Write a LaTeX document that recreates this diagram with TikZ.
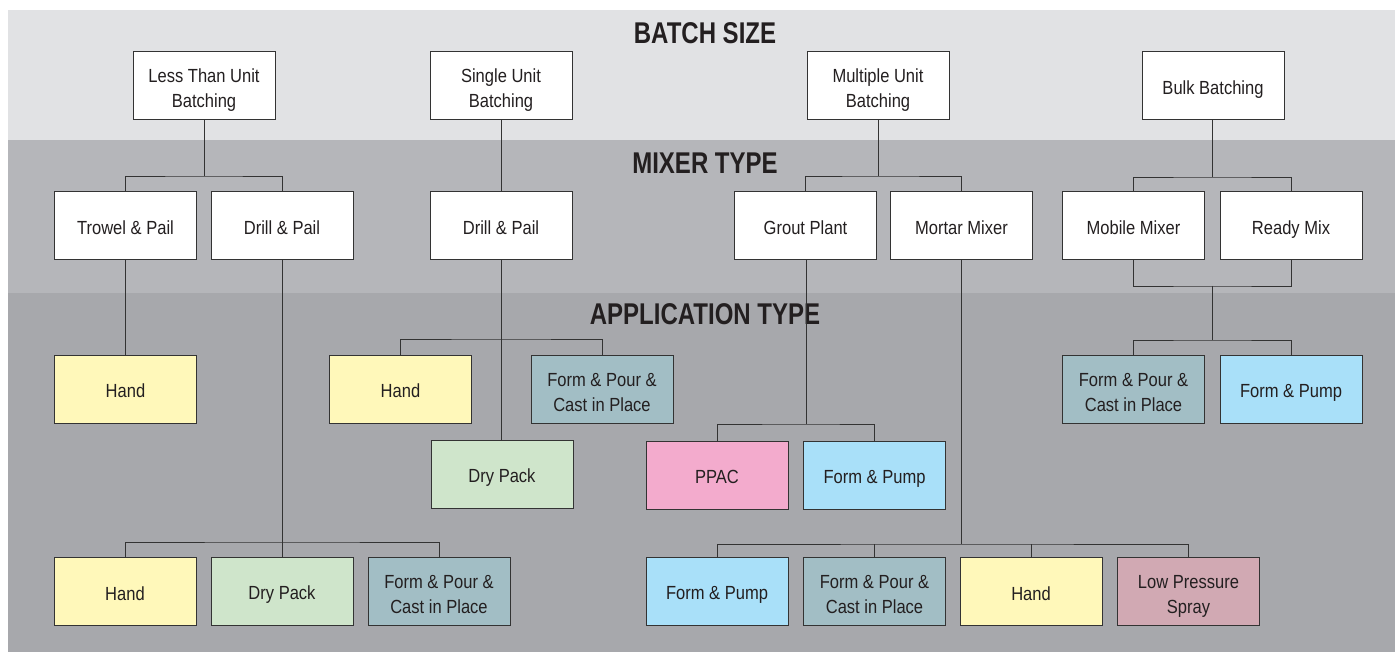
\documentclass[tikz,border=0pt]{standalone}
\usepackage{fontspec}
\setmainfont{Liberation Sans}[FakeStretch=0.87]
\newfontfamily\headfont{Liberation Sans}[FakeStretch=0.8]
\usepackage{tikz}
\usetikzlibrary{calc}
\definecolor{bandtop}{HTML}{E1E2E4}
\definecolor{bandmid}{HTML}{B5B6BA}
\definecolor{bandlow}{HTML}{A7A8AC}
\definecolor{inktext}{HTML}{231F20}
\definecolor{edge}{HTML}{333333}
\definecolor{handfill}{HTML}{FFF8BA}
\definecolor{dryfill}{HTML}{CFE5CB}
\definecolor{castfill}{HTML}{A2BEC5}
\definecolor{pumpfill}{HTML}{A9E0F9}
\definecolor{ppacfill}{HTML}{F3ABCD}
\definecolor{sprayfill}{HTML}{D1A9B3}
\newcommand\boxstrut{\rule[-2.4pt]{0pt}{22.4pt}}
\newcommand\twoline[2]{\rule{0pt}{22pt}#1\\\boxstrut #2}

\begin{document}
\begin{tikzpicture}[x=1pt,y=-1pt,
                    box/.style={draw=edge,line width=1pt,fill=white,minimum width=142pt,
                                minimum height=68pt,inner sep=0pt,align=center,text=inktext,
                                font=\fontsize{19}{25}\selectfont,execute at begin node=\boxstrut},
                    head/.style={text=inktext,inner sep=0pt,font=\headfont\bfseries\fontsize{30}{36}\selectfont},
                    wire/.style={draw=edge,line width=0.9pt}]
                      \useasboundingbox (0,0) rectangle (1395,652);
                      \fill[bandtop] (8,10) rectangle (1395,140);
                      \fill[bandmid] (8,140) rectangle (1395,293);
                      \fill[bandlow] (8,293) rectangle (1395,652);
                      \node[head] (bsize) at (705,33) {BATCH SIZE};
                      \node[head] (mtype) at (705,163) {MIXER TYPE};
                      \node[head] (atype) at (705,314) {APPLICATION TYPE};
                      \node[box] (lt) at (204,86) {\twoline{Less Than Unit}{Batching}};
                      \node[box] (su) at (501,86) {\twoline{Single Unit}{Batching}};
                      \node[box] (mu) at (878,86) {\twoline{Multiple Unit}{Batching}};
                      \node[box] (bb) at (1213,86) {Bulk Batching};
                      \node[box] (tp) at (125.5,226) {Trowel \& Pail};
                      \node[box] (dpa) at (282,226) {Drill \& Pail};
                      \node[box] (dpb) at (501,226) {Drill \& Pail};
                      \node[box] (gp) at (805.5,226) {Grout Plant};
                      \node[box] (mm) at (961.5,226) {Mortar Mixer};
                      \node[box] (mob) at (1133.5,226) {Mobile Mixer};
                      \node[box] (rdy) at (1291,226) {Ready Mix};
                      \node[box,fill=handfill] (handa) at (125.5,389) {Hand};
                      \node[box,fill=handfill] (handb) at (400.5,389) {Hand};
                      \node[box,fill=castfill] (casta) at (602,389) {\twoline{Form \& Pour \&}{Cast in Place}};
                      \node[box,fill=castfill] (castb) at (1133.5,389) {\twoline{Form \& Pour \&}{Cast in Place}};
                      \node[box,fill=pumpfill] (pumpa) at (1291,389) {Form \& Pump};
                      \node[box,fill=dryfill] (drya) at (502,474.5) {Dry Pack};
                      \node[box,fill=ppacfill] (ppac) at (717,475) {PPAC};
                      \node[box,fill=pumpfill] (pumpb) at (874.5,475) {Form \& Pump};
                      \node[box,fill=handfill] (handc) at (125,591.5) {Hand};
                      \node[box,fill=dryfill] (dryb) at (282,591.5) {Dry Pack};
                      \node[box,fill=castfill] (castc) at (439,591.5) {\twoline{Form \& Pour \&}{Cast in Place}};
                      \node[box,fill=pumpfill] (pumpc) at (717,591.5) {Form \& Pump};
                      \node[box,fill=castfill] (castd) at (874.5,591.5) {\twoline{Form \& Pour \&}{Cast in Place}};
                      \node[box,fill=handfill] (handd) at (1031,591.5) {Hand};
                      \node[box,fill=sprayfill] (lps) at (1188.5,591.5) {\twoline{Low Pressure}{Spray}};
                      \coordinate (j1) at (204,176);
                      \coordinate (j2) at (878,176);
                      \coordinate (j3) at (1212.5,177);
                      \coordinate (j4) at (501,339);
                      \coordinate (j5) at (806,424);
                      \coordinate (j6) at (961.5,544);
                      \coordinate (j7) at (1212.5,286);
                      \coordinate (j8) at (1212.5,340);
                      \coordinate (j9) at (282,542);
                      \draw[wire] (lt.south) -- (j1);
                      \draw[wire] (tp.north) |- (j1) -| (dpa.north);
                      \draw[wire] (su.south) -- (dpb.north);
                      \draw[wire] (mu.south) -- (j2);
                      \draw[wire] (gp.north) |- (j2) -| (mm.north);
                      \draw[wire] (bb.south -| j3) -- (j3);
                      \draw[wire] (mob.north) |- (j3) -| (rdy.north);
                      \draw[wire] (tp.south) -- (handa.north);
                      \draw[wire] (dpb.south) -- (drya.north -| dpb.south);
                      \draw[wire] (handb.north) |- (j4) -| (casta.north);
                      \draw[wire] (gp.south -| j5) -- (j5);
                      \draw[wire] (ppac.north) |- (j5) -| (pumpb.north);
                      \draw[wire] (mm.south) -- (j6);
                      \draw[wire] (pumpc.north) |- (j6) -| (lps.north);
                      \draw[wire] (castd.north) -- (castd.north |- j6);
                      \draw[wire] (handd.north) -- (handd.north |- j6);
                      \draw[wire] (mob.south) |- (j7) -| (rdy.south);
                      \draw[wire] (j7) -- (j8);
                      \draw[wire] (castb.north) |- (j8) -| (pumpa.north);
                      \draw[wire] (dpa.south) -- (dryb.north);
                      \draw[wire] (handc.north) |- (j9) -| (castc.north);
                  \end{tikzpicture}
\end{document}
